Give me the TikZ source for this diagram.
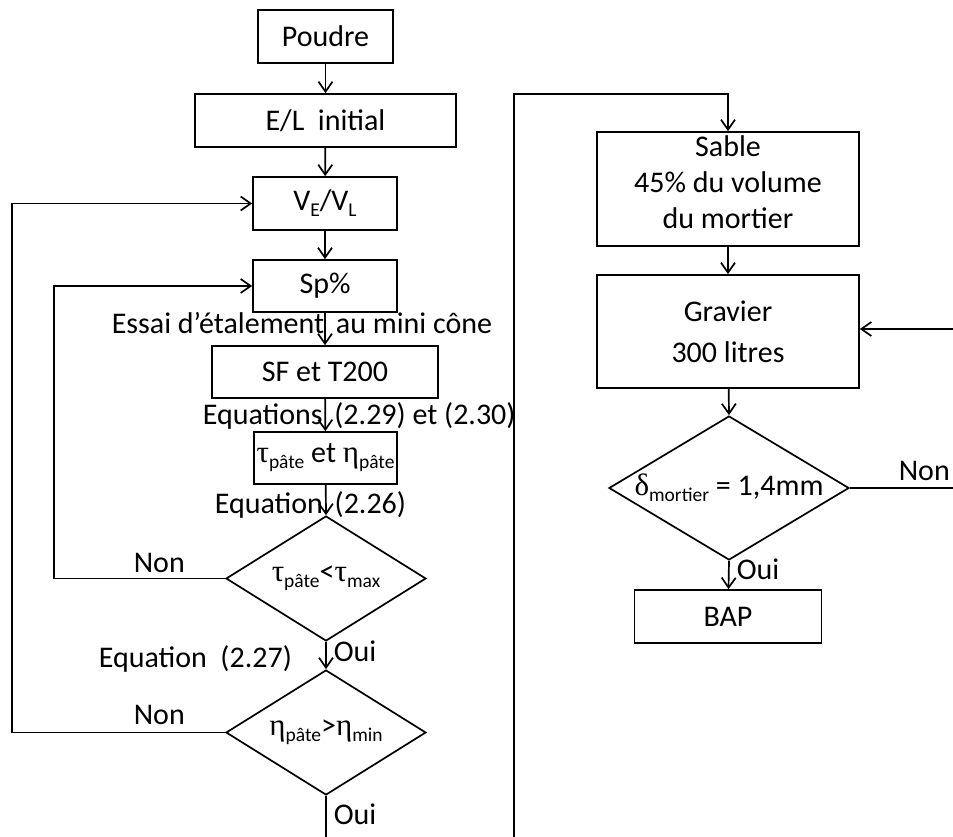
\documentclass[tikz,border=0pt]{standalone}
\usepackage{fontspec}
\setmainfont{Carlito}
\newfontfamily\grk{Liberation Serif}
\usetikzlibrary{arrows.meta,shapes.geometric}
% Greek letter and lowered small subscript
\newcommand\gk[1]{{\grk\fontsize{31}{36}\selectfont #1}}
\newcommand\lowsub[1]{\raisebox{-0.2em}{\fontsize{19.5}{19.5}\selectfont #1}}
\begin{document}
\begin{tikzpicture}[x=1pt,y=-1pt,
  line width=1.7pt,
  every node/.style={font=\fontsize{30}{36}\selectfont, inner sep=0pt},
  box/.style={draw, rectangle, align=center},
  dia/.style={draw, shape=diamond, inner sep=0pt},
  arr/.style={-{Straight Barb[length=10pt,width=14pt]}},
  lab/.style={anchor=base west}]
\useasboundingbox (0,0) rectangle (953,837);

% ---- left column ----
\node[box, minimum width=135, minimum height=53] (poudre) at (325.5,36.5) {Poudre};
\node[box, minimum width=261, minimum height=53] (el) at (325.5,120.5) {E/L\ \ initial};
\node[box, minimum width=144, minimum height=53] (vevl) at (325,203.5) {V\lowsub{E}/V\lowsub{L}};
\node[box, minimum width=144, minimum height=52] (sp) at (325,286) {Sp\%};
\node[box, minimum width=226, minimum height=52] (sf) at (325,372) {SF et T200};
\node[box, minimum width=143, minimum height=52] (tau) at (325.5,458)
  {\gk{τ}\lowsub{pâte} et \gk{η}\lowsub{pâte}};
\node[dia, minimum width=200, minimum height=125] (d1) at (326,578.5) {};
\node (d1txt) at (d1.center) {\gk{τ}\lowsub{pâte}<\gk{τ}\lowsub{max}};
\node[dia, minimum width=200, minimum height=125] (d2) at (326,732.5) {};
\node (d2txt) at (d2.center) {\gk{η}\lowsub{pâte}>\gk{η}\lowsub{min}};

\coordinate (loopin) at (54,0);
\coordinate (loopout) at (12,0);
\coordinate (endL) at (326,837);

\draw[arr] (poudre) -- (el);
\draw[arr] (el) -- (vevl);
\draw[arr] (vevl) -- (sp);
\draw[arr] (sp) -- (sf);
\draw[arr] (sf) -- (tau);
\draw[arr] (tau) -- (d1.north);
\draw[arr] (d1.south) -- (d2.north);
\draw (d2.south) -- (endL);
\draw[arr] (d1.west) -- (d1.west -| loopin) |- (sp.west);
\draw[arr] (d2.west) -- (d2.west -| loopout) |- (vevl.west);

\node[lab] (essai) at (111,333) {Essai d’étalement\ \,au mini cône};
\node[lab] (eqa) at (202,424) {Equations\ \,(2.29) et (2.30)};
\node[lab] (eqb) at (214,513) {Equation\ \,(2.26)};
\node[lab] (eqc) at (98,667) {Equation\ \ (2.27)};
\node[lab] (oui1) at (333,661) {Oui};
\node[lab] (oui2) at (333,824) {Oui};
\node[lab] (non1) at (133,572) {Non};
\node[lab] (non2) at (133,724) {Non};

% ---- right column ----
\node[box, minimum width=262, minimum height=114] (sable) at (728,189) {};
\node[align=center] (sabletxt) at ([yshift=7pt]sable.center) {Sable\\45\% du volume\\du mortier};
\node[box, minimum width=262, minimum height=113,
  font=\fontsize{30}{41}\selectfont] (gravier) at (728,331.5) {Gravier\\300 litres};
\node[dia, minimum width=240, minimum height=144] (d3) at (729,488) {};
\node (d3txt) at (d3.center) {\gk{δ}\lowsub{mortier} = 1,4mm};
\node[box, minimum width=187, minimum height=53] (bap) at (728,616.5) {BAP};

\coordinate (startR) at (514,837);
\coordinate (topR) at (514,94);
\coordinate (edgeNon) at (953,488);
\coordinate (edgeBack) at (953,329);

\draw[arr] (startR) -- (topR) -| (sable.north);
\draw[arr] (sable) -- (gravier);
\draw[arr] (gravier) -- (d3.north);
\draw[arr] (d3.south) -- (bap);
\draw (d3.east) -- (edgeNon);
\draw[arr] (edgeBack) -- (gravier.east |- edgeBack);

\node[lab] (non3) at (898,480) {Non};
\node[lab] (oui3) at (736,579) {Oui};
\end{tikzpicture}
\end{document}
